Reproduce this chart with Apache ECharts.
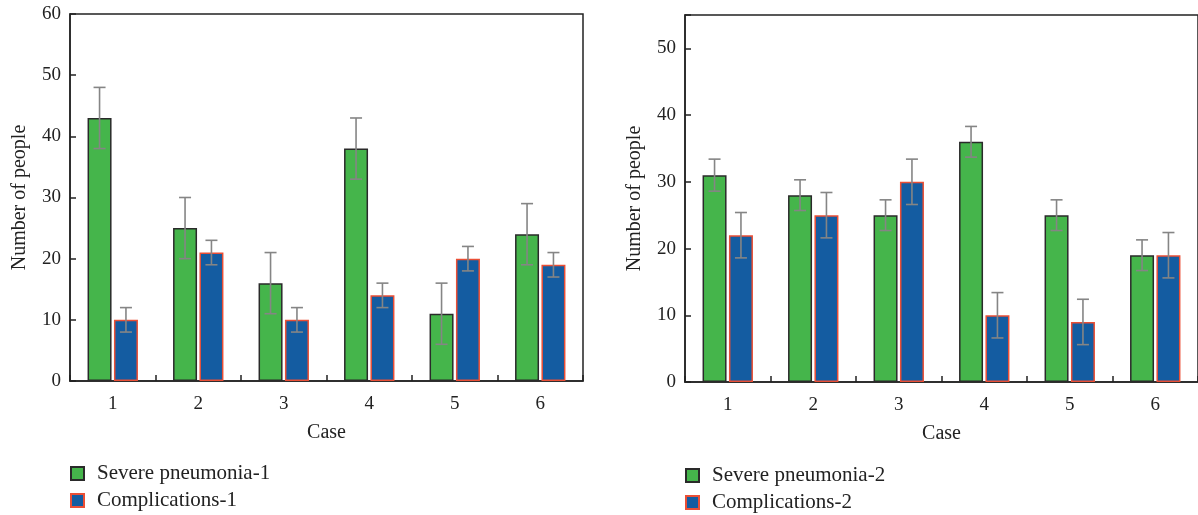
<!DOCTYPE html>
<html>
<head>
<meta charset="utf-8">
<script src="https://cdn.jsdelivr.net/npm/echarts@6/dist/echarts.min.js"></script>
<style>
html,body{margin:0;padding:0;background:#fff;}
#chart{width:1198px;height:515px;}
</style>
</head>
<body>
<div id="chart"></div>
<script>
// ---- data ----
const categories = ['1', '2', '3', '4', '5', '6'];
const severe1 = [43, 25, 16, 38, 11, 24];
const severe1Err = [5, 5, 5, 5, 5, 5];
const comp1 = [10, 21, 10, 14, 20, 19];
const comp1Err = [2, 2, 2, 2, 2, 2];
const severe2 = [31, 28, 25, 36, 25, 19];
const severe2Err = [2.4, 2.3, 2.3, 2.3, 2.3, 2.3];
const comp2 = [22, 25, 30, 10, 9, 19];
const comp2Err = [3.4, 3.4, 3.4, 3.4, 3.4, 3.4];
const yTicks1 = [0, 10, 20, 30, 40, 50, 60];
const yTicks2 = [0, 10, 20, 30, 40, 50];
const seriesNames = ['Severe pneumonia-1', 'Complications-1', 'Severe pneumonia-2', 'Complications-2'];

const FONT = '"Liberation Serif", "DejaVu Serif", serif';
const GREEN = '#45b54b';
const BLUE = '#145ca1';
const BAR_W = 24;
const GAP = 2.4;
const ERR_COLOR = '#858585';

function errSeries(name, vals, errs, xi, side) {
  return {
    type: 'custom',
    name: name + '-err',
    xAxisIndex: xi, yAxisIndex: xi,
    data: vals.map((v, i) => [i, v - errs[i], v + errs[i]]),
    z: 10,
    silent: true,
    renderItem: function (params, api) {
      const c = api.coord([api.value(0), 0]);
      const x = c[0] + side * (BAR_W / 2 + GAP / 2);
      const lo = api.coord([api.value(0), api.value(1)])[1];
      const hi = api.coord([api.value(0), api.value(2)])[1];
      const cap = 6;
      const st = { stroke: ERR_COLOR, lineWidth: 1.6 };
      return {
        type: 'group',
        children: [
          { type: 'line', shape: { x1: x, y1: lo, x2: x, y2: hi }, style: st },
          { type: 'line', shape: { x1: x - cap, y1: hi, x2: x + cap, y2: hi }, style: st },
          { type: 'line', shape: { x1: x - cap, y1: lo, x2: x + cap, y2: lo }, style: st }
        ]
      };
    }
  };
}

function barSeries(name, vals, xi, color, border) {
  return {
    type: 'bar', name: name, xAxisIndex: xi, yAxisIndex: xi,
    data: vals, barWidth: BAR_W, barGap: '10%',
    itemStyle: { color: color, borderColor: border, borderWidth: 1.5 }
  };
}

function xAxis(gi) {
  return {
    type: 'category', gridIndex: gi, data: categories,
    name: 'Case', nameLocation: 'middle', nameGap: 42,
    nameTextStyle: { fontFamily: FONT, fontSize: 20, color: '#222' },
    axisLine: { lineStyle: { color: '#222', width: 1.5 } },
    axisTick: { show: true, inside: true, length: 6, alignWithLabel: false, lineStyle: { color: '#222', width: 1.5 } },
    axisLabel: { fontFamily: FONT, fontSize: 19, color: '#222', margin: 14 }
  };
}

function yAxis(gi, max, ticks) {
  return {
    type: 'value', gridIndex: gi, min: 0, max: max, interval: ticks[1] - ticks[0],
    name: 'Number of people', nameLocation: 'middle', nameGap: 40,
    nameTextStyle: { fontFamily: FONT, fontSize: 20, color: '#222' },
    splitLine: { show: false },
    axisLine: { show: true, lineStyle: { color: '#222', width: 1.5 } },
    axisTick: { show: true, inside: true, length: 6, lineStyle: { color: '#222', width: 1.5 } },
    axisLabel: {
      fontFamily: FONT, fontSize: 19, color: '#222', margin: 9,
      formatter: function (v) { return ticks.indexOf(v) >= 0 ? String(v) : ''; }
    }
  };
}

function legend(name, left, top) {
  return {
    data: [name], left: left, top: top, padding: 0,
    itemWidth: 13, itemHeight: 13, icon: 'rect',
    textStyle: { fontFamily: FONT, fontSize: 21, color: '#222', padding: [0, 0, 0, 8] }
  };
}

const chart = echarts.init(document.getElementById('chart'), null, { renderer: 'canvas' });
chart.setOption({
  backgroundColor: '#fff',
  animation: false,
  grid: [
    { left: 70, top: 14, width: 513, height: 367, show: true, borderColor: '#222', borderWidth: 1.5, backgroundColor: 'transparent' },
    { left: 685, top: 15, width: 513, height: 367, show: true, borderColor: '#222', borderWidth: 1.5, backgroundColor: 'transparent' }
  ],
  xAxis: [xAxis(0), xAxis(1)],
  yAxis: [yAxis(0, 60, yTicks1), yAxis(1, 55, yTicks2)],
  legend: [
    legend(seriesNames[0], 70, 463),
    legend(seriesNames[1], 70, 490),
    legend(seriesNames[2], 685, 465),
    legend(seriesNames[3], 685, 492)
  ],
  series: [
    barSeries(seriesNames[0], severe1, 0, GREEN, '#2a2a2a'),
    barSeries(seriesNames[1], comp1, 0, BLUE, '#ea4f36'),
    barSeries(seriesNames[2], severe2, 1, GREEN, '#2a2a2a'),
    barSeries(seriesNames[3], comp2, 1, BLUE, '#ea4f36'),
    errSeries(seriesNames[0], severe1, severe1Err, 0, -1),
    errSeries(seriesNames[1], comp1, comp1Err, 0, 1),
    errSeries(seriesNames[2], severe2, severe2Err, 1, -1),
    errSeries(seriesNames[3], comp2, comp2Err, 1, 1)
  ]
});
</script>
</body>
</html>
